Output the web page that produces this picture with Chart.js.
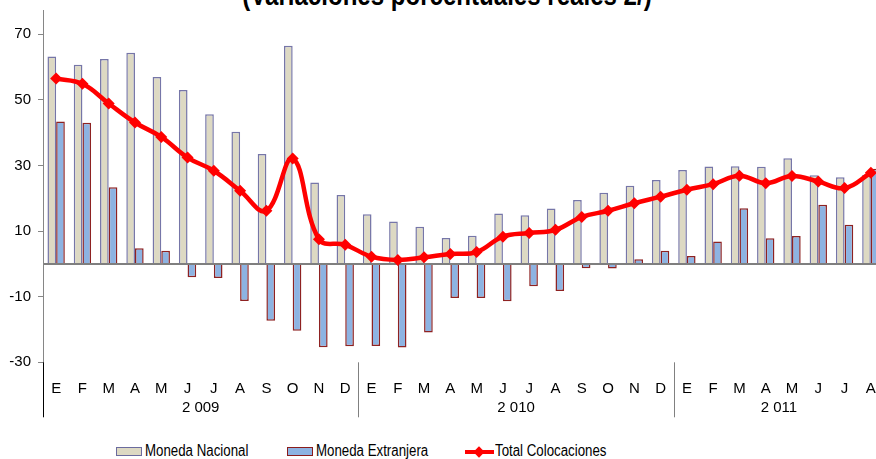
<!DOCTYPE html>
<html>
<head>
<meta charset="utf-8">
<script src="https://cdn.jsdelivr.net/npm/chart.js@4.4.1/dist/chart.umd.min.js"></script>
<style>
  html, body { margin: 0; padding: 0; width: 876px; height: 459px; overflow: hidden; background: #fff; }
  body { position: relative; font-family: "Liberation Sans", Arial, sans-serif; }
  #wrap { position: absolute; left: 0; top: 0; width: 890px; height: 440px; }
  #titulo { position: absolute; left: 447px; top: -19px; font-weight: bold; font-size: 29px; line-height: 29px;
            white-space: nowrap; transform: translateX(-50%) scaleX(0.83); color: #000; }
  .sw { position: absolute; }
  .lbl { position: absolute; top: 443px; font-size: 16px; line-height: 16px; white-space: nowrap;
         transform: scaleX(0.83); transform-origin: left center; color: #000; }
</style>
</head>
<body>
<div id="titulo">(Variaciones porcentuales reales 2/)</div>
<div id="wrap"><canvas id="grafico" width="890" height="440"></canvas></div>

<!-- leyenda -->
<div class="sw" style="left:116px;top:447px;width:24px;height:7px;background:#DDD9C3;border:1px solid #6B6B9E;"></div>
<div class="lbl" style="left:145px;">Moneda Nacional</div>
<div class="sw" style="left:287px;top:447px;width:24px;height:7px;background:#8DB3E2;border:1px solid #8A1C1C;"></div>
<div class="lbl" style="left:316px;">Moneda Extranjera</div>
<div class="sw" style="left:465px;top:450px;width:29px;height:4px;background:#FF0000;"></div>
<div class="sw" style="left:475px;top:448px;width:8px;height:8px;background:#FF0000;transform:rotate(45deg);"></div>
<div class="lbl" style="left:495px;">Total Colocaciones</div>

<script>
// meses (E = enero ... D = diciembre), 2009 - ago 2011
const meses = ['E','F','M','A','M','J','J','A','S','O','N','D',
               'E','F','M','A','M','J','J','A','S','O','N','D',
               'E','F','M','A','M','J','J','A'];
const anios = ['2 009', '2 010', '2 011'];
const mesesPorAnio = [12, 12, 8];

const monedaNacional = [63.2, 60.7, 62.5, 64.4, 57.0, 53.0, 45.6, 40.3, 33.5, 66.5, 24.8, 21.0,
                        15.1, 12.9, 11.3, 7.9, 8.6, 15.4, 14.8, 16.9, 19.5, 21.7, 23.8, 25.6,
                        28.6, 29.7, 29.8, 29.6, 32.2, 27.0, 26.4, 27.1];
const monedaExtranjera = [43.4, 43.0, 23.4, 4.8, 4.0, -4.1, -4.3, -11.3, -17.3, -20.4, -25.4, -25.1,
                          -25.0, -25.5, -20.9, -10.4, -10.4, -11.4, -6.8, -8.3, -1.3, -1.4, 1.4, 4.0,
                          2.4, 6.8, 17.0, 7.8, 8.5, 18.0, 11.9, 29.0];
const totalColocaciones = [56.5, 54.9, 48.9, 43.1, 38.7, 32.4, 28.4, 22.3, 16.2, 32.1, 7.5, 5.8,
                           2.2, 1.2, 2.0, 3.0, 3.6, 8.3, 9.4, 10.4, 14.3, 16.2, 18.5, 20.5,
                           22.6, 24.3, 26.9, 24.6, 26.8, 25.1, 23.1, 27.8];
const marcasY = [-30, -10, 0, 10, 30, 50, 70];

// eje de años debajo de los meses
const ejeAnios = {
  id: 'ejeAnios',
  afterDraw(chart) {
    const ctx = chart.ctx;
    const x = chart.scales.x;
    const area = chart.chartArea;
    const medio = (x.getPixelForValue(1) - x.getPixelForValue(0)) / 2;
    ctx.save();
    ctx.lineWidth = 1;
    ctx.strokeStyle = '#000';
    ctx.beginPath();
    ctx.moveTo(area.left + 0.5, area.bottom);
    ctx.lineTo(area.left + 0.5, area.bottom + 55);
    ctx.stroke();
    ctx.font = '15px "Liberation Sans", Arial, sans-serif';
    ctx.fillStyle = '#000';
    ctx.textAlign = 'center';
    ctx.textBaseline = 'middle';
    let ini = 0;
    anios.forEach((a, i) => {
      const izq = x.getPixelForValue(ini) - medio;
      const der = x.getPixelForValue(ini + mesesPorAnio[i] - 1) + medio;
      ctx.fillText(a, (izq + der) / 2, area.bottom + 46);
      if (i < anios.length - 1) {
        ctx.strokeStyle = '#808080';
        ctx.beginPath();
        ctx.moveTo(Math.round(der) + 0.5, area.bottom);
        ctx.lineTo(Math.round(der) + 0.5, area.bottom + 55);
        ctx.stroke();
      }
      ini += mesesPorAnio[i];
    });
    ctx.restore();
  }
};

new Chart(document.getElementById('grafico'), {
  type: 'bar',
  data: {
    labels: meses,
    datasets: [
      {
        type: 'line',
        label: 'Total Colocaciones',
        data: totalColocaciones,
        borderColor: '#FF0000',
        backgroundColor: '#FF0000',
        borderWidth: 4.5,
        tension: 0.4,
        pointStyle: 'rectRot',
        pointRadius: 6,
        pointBorderWidth: 0,
        order: 0
      },
      {
        label: 'Moneda Nacional',
        data: monedaNacional,
        backgroundColor: '#DDD9C3',
        borderColor: '#7676A8',
        borderWidth: 1.5,
        order: 1
      },
      {
        label: 'Moneda Extranjera',
        data: monedaExtranjera,
        backgroundColor: '#8DB3E2',
        borderColor: '#8E2222',
        borderWidth: 1.5,
        order: 2
      }
    ]
  },
  options: {
    responsive: false,
    animation: false,
    devicePixelRatio: 1,
    layout: { padding: { left: 0, top: 10, right: 5.4, bottom: 0 } },
    datasets: { bar: { categoryPercentage: 0.66, barPercentage: 1.0 } },
    plugins: { legend: { display: false }, title: { display: false }, tooltip: { enabled: false } },
    scales: {
      x: {
        grid: { display: false },
        border: { display: false },
        ticks: { color: '#000', font: { family: '"Liberation Sans", Arial, sans-serif', size: 15 }, padding: 10, maxRotation: 0, autoSkip: false },
        afterFit(scale) { scale.height = 77.7; }
      },
      y: {
        min: -30,
        max: 77.4,
        afterBuildTicks(scale) { scale.ticks = marcasY.map(v => ({ value: v })); },
        afterFit(scale) {
          scale.width = 43;
          scale.paddingTop = 0;
          scale.paddingBottom = 0;
        },
        border: { display: true, color: '#868686', width: 1 },
        grid: {
          drawTicks: true,
          tickLength: 5,
          tickWidth: 1,
          color: c => (c.tick && c.tick.value === 0 ? '#7F7F7F' : 'rgba(0,0,0,0)'),
          tickColor: c => (c.tick && c.tick.value === 0 ? 'rgba(0,0,0,0)' : '#868686'),
          lineWidth: c => (c.tick && c.tick.value === 0 ? 2 : 1)
        },
        ticks: {
          color: '#000',
          padding: 7,
          font: { family: '"Liberation Sans", Arial, sans-serif', size: 15 },
          callback: v => (v === 0 ? '' : v)
        }
      }
    }
  },
  plugins: [ejeAnios]
});
</script>
</body>
</html>
